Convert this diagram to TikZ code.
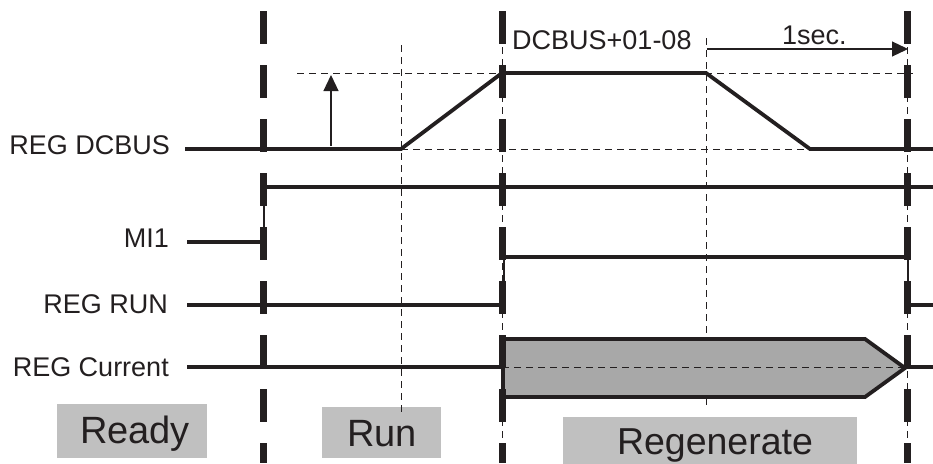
\documentclass[tikz,border=0pt]{standalone}
\usepackage{fontspec}
\setmainfont{Liberation Sans}
\usetikzlibrary{arrows.meta}
\definecolor{ink}{RGB}{35,31,32}
\definecolor{boxgray}{RGB}{192,192,192}
\definecolor{shapegray}{RGB}{168,168,168}
\tikzset{
  sig/.style={draw=ink, line width=3.8pt, line join=miter},
  thin dash/.style={draw=ink, line width=0.9pt, dash pattern=on 7pt off 5pt},
  bigdash/.style={draw=ink, line width=7pt, dash pattern=on 33pt off 21pt},
  lbl/.style={text=ink, inner sep=0pt, font=\fontsize{27}{32}\selectfont},
  bigtxt/.style={text=ink, inner sep=0pt, font=\fontsize{38}{44}\selectfont},
  graybox/.style={fill=boxgray, draw=none, inner sep=0pt},
  thinarrow/.style={draw=ink, line width=1.2pt, -{Triangle[length=16pt,width=15pt]}},
}
\begin{document}
\begin{tikzpicture}[x=1pt,y=-1pt]
\useasboundingbox (0,0) rectangle (933,463);
% coordinates
\coordinate (t1) at (263,0);
\coordinate (t2) at (502,0);
\coordinate (t3) at (907,0);
% gray boxes
\node[graybox, minimum width=150pt, minimum height=54pt] (readybox) at (132,431) {};
\node[bigtxt, anchor=base] (ready) at (135,443) {Ready};
\node[graybox, minimum width=119pt, minimum height=51pt] (runbox) at (381.5,432.5) {};
\node[bigtxt, anchor=base] (run) at (382,446) {Run};
\node[graybox, minimum width=294pt, minimum height=50pt] (regbox) at (710,442) {};
\node[bigtxt, anchor=base, font=\fontsize{37.5}{44}\selectfont] (regen) at (715,454.5) {Regenerate};
% thin dashed guides
\draw[thin dash] (401,45) -- (401,413);
\draw[thin dash] (706,38) -- (706,407);
\draw[thin dash] (502,11) -- (502,463);
\draw[thin dash] (907,11) -- (907,463);
\draw[thin dash] (297,73) -- (913,73);
\draw[thin dash] (401,149) -- (840,149);
% labels
\node[lbl, anchor=base east] (ldc) at (170,154) {REG DCBUS};
\node[lbl, anchor=base east] (lmi) at (169,247) {MI1};
\node[lbl, anchor=base east] (lrun) at (168,313) {REG RUN};
\node[lbl, anchor=base east] (lcur) at (169,376) {REG Current};
\node[lbl, anchor=base west] (dcb) at (512,49) {DCBUS+01-08};
\node[lbl, anchor=base west] (sec) at (782,44) {1sec.};
% arrows
\coordinate (ua) at (331,146);
\coordinate (ub) at (331,75);
\draw[thinarrow] (ua) -- (ub);
\coordinate (sa) at (707,49);
\coordinate (sb) at (908,49);
\draw[thinarrow] (sa) -- (sb);
% REG DCBUS
\draw[sig] (185,149) -- (401,149) -- (502,73) -- (706,73) -- (810,149) -- (933,149);
% MI1
\draw[sig] (187,242) -- (263,242);
\draw[draw=ink, line width=2.5pt] (264,244) -- (264,187);
\draw[sig] (263,187) -- (933,187);
% REG RUN
\draw[sig] (187,305) -- (502,305);
\draw[draw=ink, line width=2.5pt] (504,305) -- (504,257);
\draw[sig] (504,257) -- (908,257);
\draw[draw=ink, line width=2.5pt] (908,257) -- (908,305);
\draw[sig] (908,305) -- (933,305);
% REG Current
\draw[sig] (187,367) -- (502,367);
\draw[sig, fill=shapegray] (503,339) -- (865,339) -- (905,368) -- (865,397) -- (503,397) -- cycle;
\draw[thin dash] (478,367) -- (903,367);
\draw[sig] (907,367) -- (933,367);
% thick dashed separators
\draw[bigdash] (263,11) -- (263,463);
\draw[bigdash] (502,11) -- (502,463);
\draw[bigdash] (907,11) -- (907,463);
\end{tikzpicture}
\end{document}
